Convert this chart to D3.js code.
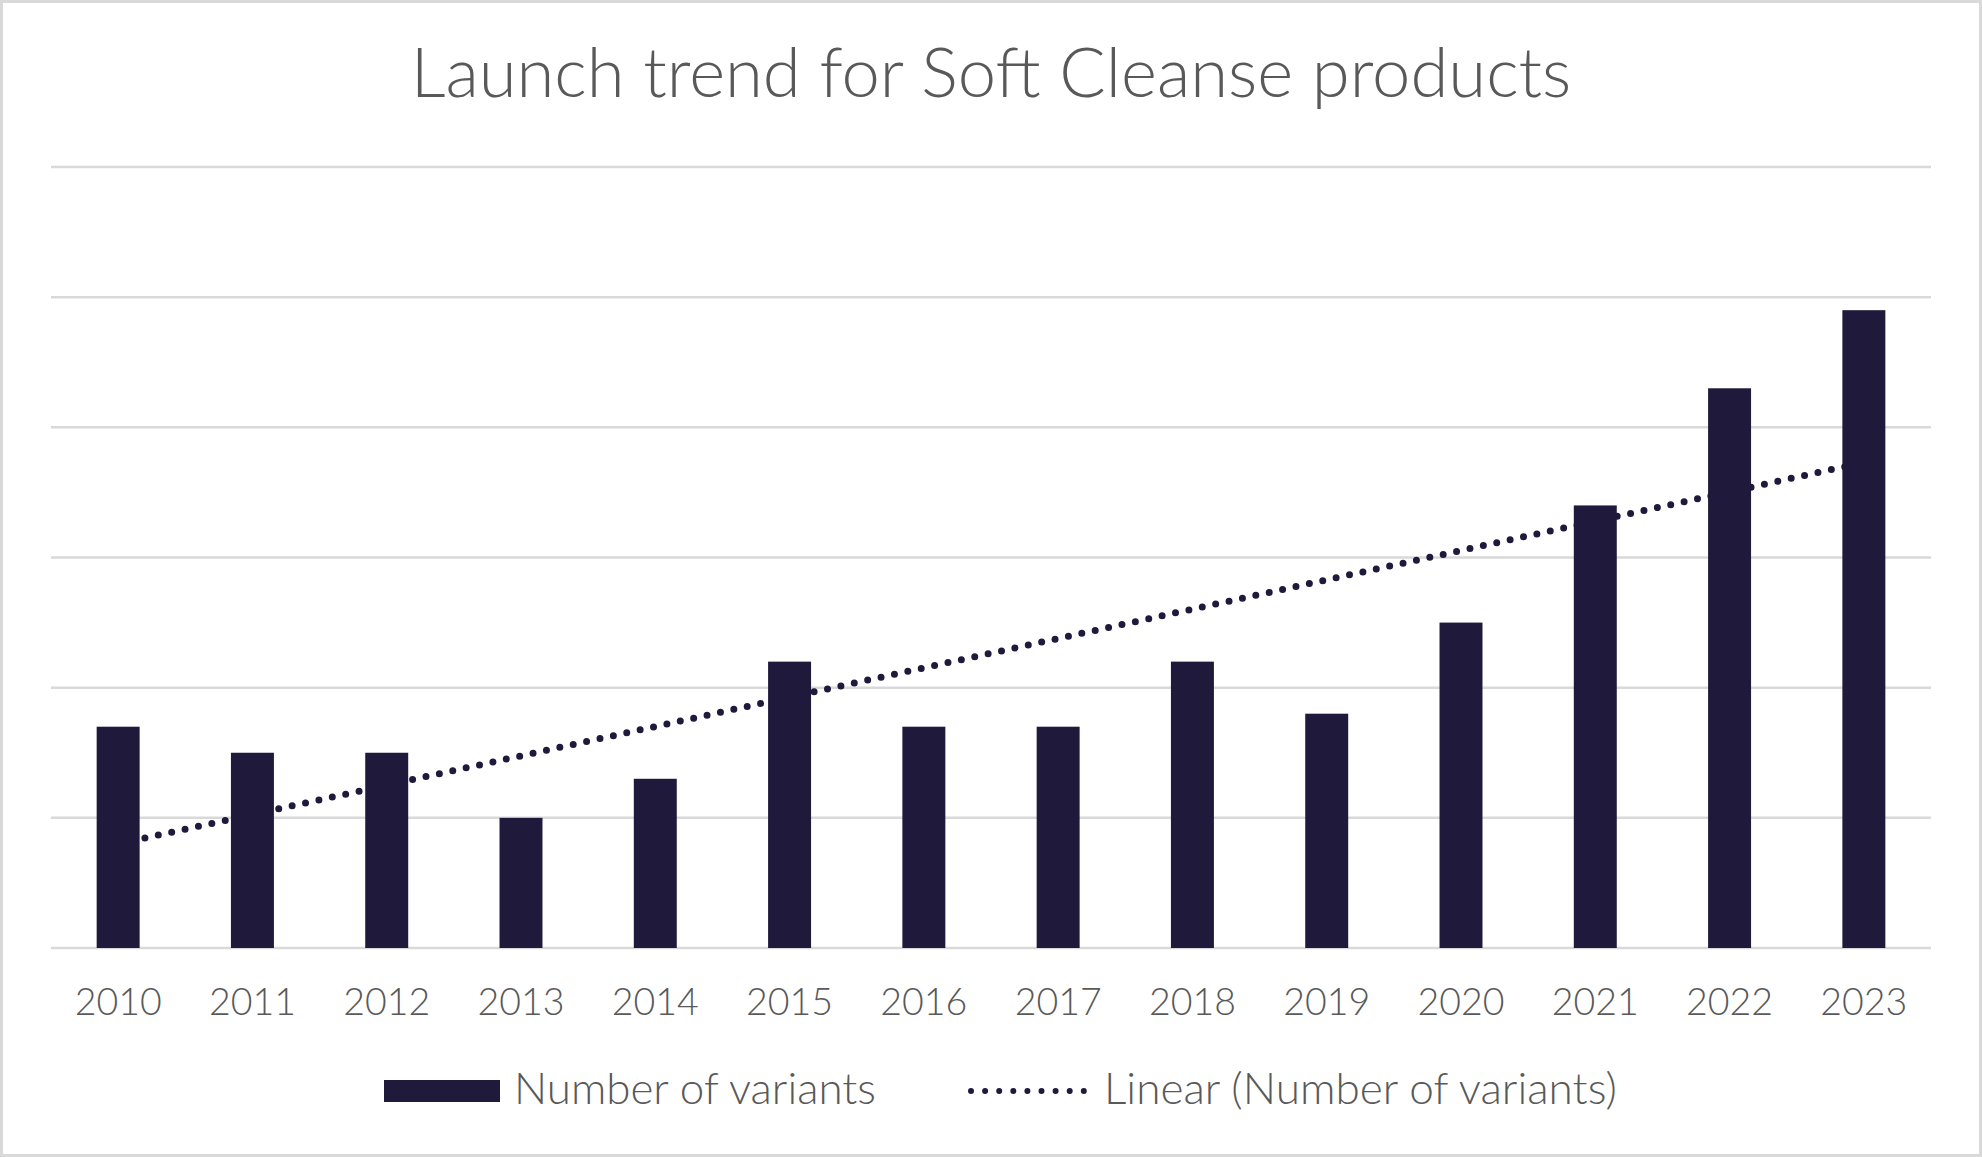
<!DOCTYPE html>
<html>
<head>
  <meta charset="utf-8">
  <title>Launch trend for Soft Cleanse products</title>
  <script src="https://d3js.org/d3.v7.min.js"></script>
  <style>
    html, body { margin: 0; padding: 0; background: #fff; }
    body { font-family: Lato, "Open Sans", sans-serif; }
    svg text { font-weight: 300; }
  </style>
</head>
<body>
  <div id="chart"></div>
  <script>
    // chart data
    const years = ["2010", "2011", "2012", "2013", "2014", "2015", "2016",
                   "2017", "2018", "2019", "2020", "2021", "2022", "2023"];
    const variants = [17, 15, 15, 10, 13, 22, 17, 17, 22, 18, 25, 34, 43, 49];
    // linear trendline value at the first and last year
    const trendYears = ["2010", "2023"];
    const trendValues = [8.0, 37.3];
    const gridTicks = [0, 10, 20, 30, 40, 50, 60];

    const titleText = "Launch trend for Soft Cleanse products";
    const seriesName = "Number of variants";
    const trendName = "Linear (Number of variants)";

    const width = 1982, height = 1157;
    const barColor = "#1f1a3b";
    const textColor = "#595959";
    const gridColor = "#d9d9d9";

    const svg = d3.select("#chart")
      .append("svg")
      .attr("width", width)
      .attr("height", height);

    // outer chart border
    svg.append("rect")
      .attr("x", 1.5).attr("y", 1.5)
      .attr("width", width - 3).attr("height", height - 3)
      .attr("fill", "#fff")
      .attr("stroke", gridColor)
      .attr("stroke-width", 3);

    // shrink/grow a text node's font size until it has the wanted width
    function fitWidth(sel, target) {
      const fs = parseFloat(sel.attr("font-size"));
      const w = sel.node().getComputedTextLength();
      sel.attr("font-size", fs * target / w);
      return fs * target / w;
    }

    svg.append("text")
      .attr("x", 991).attr("y", 97)
      .attr("text-anchor", "middle")
      .attr("font-size", 64)
      .attr("fill", textColor)
      .text(titleText)
      .call(s => fitWidth(s, 1161));

    const x = d3.scaleBand()
      .domain(years)
      .range([51, 1931])
      .paddingInner(0.68)
      .paddingOuter(0.34);

    const y = d3.scaleLinear()
      .domain([0, 60])
      .range([948, 167]);

    // gridlines
    svg.append("g")
      .selectAll("line")
      .data(gridTicks)
      .join("line")
      .attr("x1", 51).attr("x2", 1931)
      .attr("y1", d => y(d)).attr("y2", d => y(d))
      .attr("stroke", gridColor)
      .attr("stroke-width", 2.5);

    // dotted linear trendline (sits behind the bars)
    const line = d3.line()
      .x(d => x(d[0]) + x.bandwidth() / 2)
      .y(d => y(d[1]));

    svg.append("path")
      .datum(d3.zip(trendYears, trendValues))
      .attr("d", line)
      .attr("fill", "none")
      .attr("stroke", barColor)
      .attr("stroke-width", 7)
      .attr("stroke-linecap", "round")
      .attr("stroke-dasharray", "0 13.7");

    // bars
    svg.append("g")
      .selectAll("rect")
      .data(d3.zip(years, variants))
      .join("rect")
      .attr("x", d => x(d[0]))
      .attr("width", x.bandwidth())
      .attr("y", d => y(d[1]))
      .attr("height", d => y(0) - y(d[1]))
      .attr("fill", barColor);

    // x axis labels
    const xAxis = svg.append("g")
      .attr("transform", "translate(0,1015)")
      .call(d3.axisBottom(x).tickSize(0).tickPadding(0));
    xAxis.select(".domain").remove();
    const probe = svg.append("text").attr("font-size", 35).text("2010");
    const labelSize = fitWidth(probe, 87);
    probe.remove();
    xAxis.selectAll("text")
      .attr("dy", 0)
      .attr("font-family", "Lato, 'Open Sans', sans-serif")
      .attr("font-size", labelSize)
      .attr("fill", textColor);

    // legend
    const legend = svg.append("g");
    legend.append("rect")
      .attr("x", 384).attr("y", 1080)
      .attr("width", 116).attr("height", 22)
      .attr("fill", barColor);
    legend.append("text")
      .attr("x", 514).attr("y", 1104)
      .attr("font-size", 42)
      .attr("fill", textColor)
      .text(seriesName)
      .call(s => fitWidth(s, 362));
    legend.append("line")
      .attr("x1", 971).attr("x2", 1084.5)
      .attr("y1", 1091).attr("y2", 1091)
      .attr("stroke", barColor)
      .attr("stroke-width", 6)
      .attr("stroke-linecap", "round")
      .attr("stroke-dasharray", "0 14.1");
    legend.append("text")
      .attr("x", 1104).attr("y", 1104)
      .attr("font-size", 42)
      .attr("fill", textColor)
      .text(trendName)
      .call(s => fitWidth(s, 513));
  </script>
</body>
</html>
